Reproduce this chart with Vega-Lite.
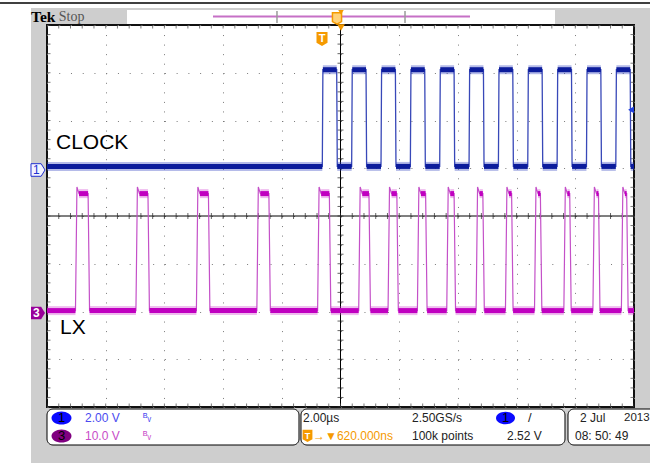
{
  "$schema": "https://vega.github.io/schema/vega-lite/v6.json",
  "width": 587,
  "height": 382,
  "autosize": {"type": "none"},
  "padding": {"left": 47, "top": 25, "right": 16, "bottom": 56},
  "background": "#cecece",
  "config": {
    "view": {"fill": "#ffffff", "stroke": "#111111", "strokeWidth": 2},
    "axis": {"labels": false, "ticks": false, "domain": false, "titleOpacity": 0, "grid": true, "gridColor": "#7a7a7a", "gridWidth": 1},
    "axisX": {"gridDash": [1, 8.55], "tickCount": 10},
    "axisY": {"gridDash": [1, 10.74], "tickCount": 8},
    "text": {"font": "Liberation Sans"}
  },
  "data": {"values": [{}]},
  "datasets": {
    "clk": [
      {"t": -10, "v": 0.15}, {"t": -0.62, "v": 0.15}, {"t": -0.6, "v": 4.2}, {"t": -0.13, "v": 4.2}, {"t": -0.11, "v": 0.15},
      {"t": 0.38, "v": 0.15}, {"t": 0.4, "v": 4.2}, {"t": 0.87, "v": 4.2}, {"t": 0.89, "v": 0.15},
      {"t": 1.38, "v": 0.15}, {"t": 1.4, "v": 4.2}, {"t": 1.87, "v": 4.2}, {"t": 1.89, "v": 0.15},
      {"t": 2.38, "v": 0.15}, {"t": 2.4, "v": 4.2}, {"t": 2.87, "v": 4.2}, {"t": 2.89, "v": 0.15},
      {"t": 3.38, "v": 0.15}, {"t": 3.4, "v": 4.2}, {"t": 3.87, "v": 4.2}, {"t": 3.89, "v": 0.15},
      {"t": 4.38, "v": 0.15}, {"t": 4.4, "v": 4.2}, {"t": 4.87, "v": 4.2}, {"t": 4.89, "v": 0.15},
      {"t": 5.38, "v": 0.15}, {"t": 5.4, "v": 4.2}, {"t": 5.87, "v": 4.2}, {"t": 5.89, "v": 0.15},
      {"t": 6.38, "v": 0.15}, {"t": 6.4, "v": 4.2}, {"t": 6.87, "v": 4.2}, {"t": 6.89, "v": 0.15},
      {"t": 7.38, "v": 0.15}, {"t": 7.4, "v": 4.2}, {"t": 7.87, "v": 4.2}, {"t": 7.89, "v": 0.15},
      {"t": 8.38, "v": 0.15}, {"t": 8.4, "v": 4.2}, {"t": 8.87, "v": 4.2}, {"t": 8.89, "v": 0.15},
      {"t": 9.38, "v": 0.15}, {"t": 9.4, "v": 4.2}, {"t": 9.87, "v": 4.2}, {"t": 9.89, "v": 0.15},
      {"t": 10, "v": 0.15}
    ],
    "clkband": [
      {"t1": -10, "t2": -0.62, "v": 0.15}, {"t1": -0.11, "t2": 0.38, "v": 0.15}, {"t1": 0.89, "t2": 1.38, "v": 0.15},
      {"t1": 1.89, "t2": 2.38, "v": 0.15}, {"t1": 2.89, "t2": 3.38, "v": 0.15}, {"t1": 3.89, "t2": 4.38, "v": 0.15},
      {"t1": 4.89, "t2": 5.38, "v": 0.15}, {"t1": 5.89, "t2": 6.38, "v": 0.15}, {"t1": 6.89, "t2": 7.38, "v": 0.15},
      {"t1": 7.89, "t2": 8.38, "v": 0.15}, {"t1": 8.89, "t2": 9.38, "v": 0.15}, {"t1": 9.89, "t2": 10, "v": 0.15},
      {"t1": -0.6, "t2": -0.13, "v": 4.2}, {"t1": 0.4, "t2": 0.87, "v": 4.2}, {"t1": 1.4, "t2": 1.87, "v": 4.2},
      {"t1": 2.4, "t2": 2.87, "v": 4.2}, {"t1": 3.4, "t2": 3.87, "v": 4.2}, {"t1": 4.4, "t2": 4.87, "v": 4.2},
      {"t1": 5.4, "t2": 5.87, "v": 4.2}, {"t1": 6.4, "t2": 6.87, "v": 4.2}, {"t1": 7.4, "t2": 7.87, "v": 4.2},
      {"t1": 8.4, "t2": 8.87, "v": 4.2}, {"t1": 9.4, "t2": 9.87, "v": 4.2}
    ],
    "lx": [
      {"t": -10, "v": 0.5},
      {"t": -9.03, "v": 0.5}, {"t": -8.98, "v": 26.4}, {"t": -8.91, "v": 25}, {"t": -8.6, "v": 25}, {"t": -8.55, "v": 0.5},
      {"t": -6.97, "v": 0.5}, {"t": -6.92, "v": 26.4}, {"t": -6.85, "v": 25}, {"t": -6.56, "v": 25}, {"t": -6.51, "v": 0.5},
      {"t": -4.91, "v": 0.5}, {"t": -4.86, "v": 26.4}, {"t": -4.79, "v": 25}, {"t": -4.5, "v": 25}, {"t": -4.45, "v": 0.5},
      {"t": -2.85, "v": 0.5}, {"t": -2.8, "v": 26.4}, {"t": -2.73, "v": 25}, {"t": -2.44, "v": 25}, {"t": -2.39, "v": 0.5},
      {"t": -0.78, "v": 0.5}, {"t": -0.73, "v": 26.4}, {"t": -0.66, "v": 25}, {"t": -0.38, "v": 25}, {"t": -0.33, "v": 0.5},
      {"t": 0.62, "v": 0.5}, {"t": 0.67, "v": 26.4}, {"t": 0.74, "v": 25}, {"t": 0.97, "v": 25}, {"t": 1.02, "v": 0.5},
      {"t": 1.62, "v": 0.5}, {"t": 1.67, "v": 26.4}, {"t": 1.74, "v": 25}, {"t": 1.92, "v": 25}, {"t": 1.97, "v": 0.5},
      {"t": 2.62, "v": 0.5}, {"t": 2.67, "v": 26.4}, {"t": 2.74, "v": 25}, {"t": 2.9, "v": 25}, {"t": 2.95, "v": 0.5},
      {"t": 3.62, "v": 0.5}, {"t": 3.67, "v": 26.4}, {"t": 3.74, "v": 25}, {"t": 3.87, "v": 25}, {"t": 3.92, "v": 0.5},
      {"t": 4.62, "v": 0.5}, {"t": 4.67, "v": 26.4}, {"t": 4.74, "v": 25}, {"t": 4.85, "v": 25}, {"t": 4.9, "v": 0.5},
      {"t": 5.62, "v": 0.5}, {"t": 5.67, "v": 26.4}, {"t": 5.74, "v": 25}, {"t": 5.83, "v": 25}, {"t": 5.88, "v": 0.5},
      {"t": 6.61, "v": 0.5}, {"t": 6.66, "v": 26.4}, {"t": 6.73, "v": 25}, {"t": 6.81, "v": 25}, {"t": 6.86, "v": 0.5},
      {"t": 7.61, "v": 0.5}, {"t": 7.66, "v": 26.4}, {"t": 7.73, "v": 25}, {"t": 7.81, "v": 25}, {"t": 7.86, "v": 0.5},
      {"t": 8.6, "v": 0.5}, {"t": 8.65, "v": 26.4}, {"t": 8.72, "v": 25}, {"t": 8.79, "v": 25}, {"t": 8.84, "v": 0.5},
      {"t": 9.57, "v": 0.5}, {"t": 9.62, "v": 26.4}, {"t": 9.69, "v": 25}, {"t": 9.75, "v": 25}, {"t": 9.8, "v": 0.5},
      {"t": 10, "v": 0.5}
    ],
    "lxband": [
      {"t1": -10, "t2": -9.03, "v": 0.5}, {"t1": -8.55, "t2": -6.97, "v": 0.5}, {"t1": -6.51, "t2": -4.91, "v": 0.5},
      {"t1": -4.45, "t2": -2.85, "v": 0.5}, {"t1": -2.39, "t2": -0.78, "v": 0.5}, {"t1": -0.33, "t2": 0.62, "v": 0.5},
      {"t1": 1.02, "t2": 1.62, "v": 0.5}, {"t1": 1.97, "t2": 2.62, "v": 0.5}, {"t1": 2.95, "t2": 3.62, "v": 0.5},
      {"t1": 3.92, "t2": 4.62, "v": 0.5}, {"t1": 4.9, "t2": 5.62, "v": 0.5}, {"t1": 5.88, "t2": 6.61, "v": 0.5},
      {"t1": 6.86, "t2": 7.61, "v": 0.5}, {"t1": 7.86, "t2": 8.6, "v": 0.5}, {"t1": 8.84, "t2": 9.57, "v": 0.5},
      {"t1": 9.8, "t2": 10, "v": 0.5},
      {"t1": -8.91, "t2": -8.6, "v": 25}, {"t1": -6.85, "t2": -6.56, "v": 25}, {"t1": -4.79, "t2": -4.5, "v": 25},
      {"t1": -2.73, "t2": -2.44, "v": 25}, {"t1": -0.66, "t2": -0.38, "v": 25}, {"t1": 0.74, "t2": 0.97, "v": 25},
      {"t1": 1.74, "t2": 1.92, "v": 25}, {"t1": 2.74, "t2": 2.9, "v": 25}, {"t1": 3.74, "t2": 3.87, "v": 25},
      {"t1": 4.74, "t2": 4.85, "v": 25}, {"t1": 5.74, "t2": 5.83, "v": 25}, {"t1": 6.73, "t2": 6.81, "v": 25},
      {"t1": 7.73, "t2": 7.81, "v": 25}, {"t1": 8.72, "t2": 8.79, "v": 25}, {"t1": 9.69, "t2": 9.75, "v": 25}
    ],
    "xt": [
      {"t": -10}, {"t": -9.6}, {"t": -9.2}, {"t": -8.8}, {"t": -8.4}, {"t": -8}, {"t": -7.6}, {"t": -7.2}, {"t": -6.8}, {"t": -6.4},
      {"t": -6}, {"t": -5.6}, {"t": -5.2}, {"t": -4.8}, {"t": -4.4}, {"t": -4}, {"t": -3.6}, {"t": -3.2}, {"t": -2.8}, {"t": -2.4},
      {"t": -2}, {"t": -1.6}, {"t": -1.2}, {"t": -0.8}, {"t": -0.4}, {"t": 0}, {"t": 0.4}, {"t": 0.8}, {"t": 1.2}, {"t": 1.6},
      {"t": 2}, {"t": 2.4}, {"t": 2.8}, {"t": 3.2}, {"t": 3.6}, {"t": 4}, {"t": 4.4}, {"t": 4.8}, {"t": 5.2}, {"t": 5.6},
      {"t": 6}, {"t": 6.4}, {"t": 6.8}, {"t": 7.2}, {"t": 7.6}, {"t": 8}, {"t": 8.4}, {"t": 8.8}, {"t": 9.2}, {"t": 9.6}, {"t": 10}
    ],
    "yt": [
      {"d": -4}, {"d": -3.8}, {"d": -3.6}, {"d": -3.4}, {"d": -3.2}, {"d": -3}, {"d": -2.8}, {"d": -2.6}, {"d": -2.4}, {"d": -2.2},
      {"d": -2}, {"d": -1.8}, {"d": -1.6}, {"d": -1.4}, {"d": -1.2}, {"d": -1}, {"d": -0.8}, {"d": -0.6}, {"d": -0.4}, {"d": -0.2},
      {"d": 0}, {"d": 0.2}, {"d": 0.4}, {"d": 0.6}, {"d": 0.8}, {"d": 1}, {"d": 1.2}, {"d": 1.4}, {"d": 1.6}, {"d": 1.8},
      {"d": 2}, {"d": 2.2}, {"d": 2.4}, {"d": 2.6}, {"d": 2.8}, {"d": 3}, {"d": 3.2}, {"d": 3.4}, {"d": 3.6}, {"d": 3.8}, {"d": 4}
    ]
  },
  "layer": [
    {
      "layer": [
        {"mark": {"type": "rect", "color": "#ffffff"}, "encoding": {"x": {"datum": -11.601, "type": "quantitative", "scale": {"domain": [-10, 10], "nice": false}}, "x2": {"datum": -10.545}, "y": {"datum": 4.524, "type": "quantitative", "scale": {"domain": [-4, 4], "nice": false}}, "y2": {"datum": -5.173}}},
        {"mark": {"type": "rect", "color": "#ffffff"}, "encoding": {"x": {"datum": -11.601, "type": "quantitative", "scale": {"domain": [-10, 10], "nice": false}}, "x2": {"datum": 10.545}, "y": {"datum": 4.524, "type": "quantitative", "scale": {"domain": [-4, 4], "nice": false}}, "y2": {"datum": 4.356}}},
        {"mark": {"type": "rule", "color": "#000000", "strokeWidth": 1.5}, "encoding": {"x": {"datum": -11.601, "type": "quantitative", "scale": {"domain": [-10, 10], "nice": false}}, "x2": {"datum": 10.545}, "y": {"datum": 4.461, "type": "quantitative", "scale": {"domain": [-4, 4], "nice": false}}}},
        {"mark": {"type": "rect", "color": "#ffffff"}, "encoding": {"x": {"datum": -7.274, "type": "quantitative", "scale": {"domain": [-10, 10], "nice": false}}, "x2": {"datum": 7.308}, "y": {"datum": 4.314, "type": "quantitative", "scale": {"domain": [-4, 4], "nice": false}}, "y2": {"datum": 4.021}}},
        {"mark": {"type": "rule", "color": "#c670c6", "strokeWidth": 2}, "encoding": {"x": {"datum": -4.344, "type": "quantitative", "scale": {"domain": [-10, 10], "nice": false}}, "x2": {"datum": 4.412}, "y": {"datum": 4.178, "type": "quantitative", "scale": {"domain": [-4, 4], "nice": false}}}},
        {"mark": {"type": "rule", "color": "#9a9a9a", "strokeWidth": 1.5}, "encoding": {"x": {"datum": -2.164, "type": "quantitative", "scale": {"domain": [-10, 10], "nice": false}}, "y": {"datum": 4.293, "type": "quantitative", "scale": {"domain": [-4, 4], "nice": false}}, "y2": {"datum": 4.042}}},
        {"mark": {"type": "rule", "color": "#9a9a9a", "strokeWidth": 1.5}, "encoding": {"x": {"datum": 2.198, "type": "quantitative", "scale": {"domain": [-10, 10], "nice": false}}, "y": {"datum": 4.293, "type": "quantitative", "scale": {"domain": [-4, 4], "nice": false}}, "y2": {"datum": 4.042}}},
        {"mark": {"type": "rule", "color": "#000000", "strokeWidth": 1}, "encoding": {"x": {"datum": 0, "type": "quantitative", "scale": {"domain": [-10, 10], "nice": false}}}},
        {"mark": {"type": "rule", "color": "#000000", "strokeWidth": 1}, "encoding": {"y": {"datum": 0, "type": "quantitative", "scale": {"domain": [-4, 4], "nice": false}}}},
        {"data": {"name": "xt"}, "mark": {"type": "tick", "orient": "vertical", "size": 6, "thickness": 1, "color": "#222222"}, "encoding": {"x": {"field": "t", "type": "quantitative", "scale": {"domain": [-10, 10], "nice": false}, "title": null}, "y": {"datum": 0, "type": "quantitative", "scale": {"domain": [-4, 4], "nice": false}}}},
        {"data": {"name": "yt"}, "mark": {"type": "tick", "orient": "horizontal", "size": 6, "thickness": 1, "color": "#222222"}, "encoding": {"y": {"field": "d", "type": "quantitative", "scale": {"domain": [-4, 4], "nice": false}, "title": null}, "x": {"datum": 0, "type": "quantitative", "scale": {"domain": [-10, 10], "nice": false}}}},
        {"data": {"name": "xt"}, "mark": {"type": "tick", "orient": "vertical", "size": 7, "thickness": 1, "color": "#444444", "clip": true}, "encoding": {"x": {"field": "t", "type": "quantitative", "scale": {"domain": [-10, 10], "nice": false}, "title": null}, "y": {"datum": 4, "type": "quantitative", "scale": {"domain": [-4, 4], "nice": false}}}},
        {"data": {"name": "xt"}, "mark": {"type": "tick", "orient": "vertical", "size": 7, "thickness": 1, "color": "#444444", "clip": true}, "encoding": {"x": {"field": "t", "type": "quantitative", "scale": {"domain": [-10, 10], "nice": false}, "title": null}, "y": {"datum": -4, "type": "quantitative", "scale": {"domain": [-4, 4], "nice": false}}}},
        {"data": {"name": "yt"}, "mark": {"type": "tick", "orient": "horizontal", "size": 7, "thickness": 1, "color": "#444444", "clip": true}, "encoding": {"y": {"field": "d", "type": "quantitative", "scale": {"domain": [-4, 4], "nice": false}, "title": null}, "x": {"datum": -10, "type": "quantitative", "scale": {"domain": [-10, 10], "nice": false}}}},
        {"data": {"name": "yt"}, "mark": {"type": "tick", "orient": "horizontal", "size": 7, "thickness": 1, "color": "#444444", "clip": true}, "encoding": {"y": {"field": "d", "type": "quantitative", "scale": {"domain": [-4, 4], "nice": false}, "title": null}, "x": {"datum": 10, "type": "quantitative", "scale": {"domain": [-10, 10], "nice": false}}}},
        {"mark": {"type": "rect", "fill": "#ffffff", "stroke": "#000000", "strokeWidth": 1, "cornerRadius": 6}, "encoding": {"x": {"datum": -10.0, "type": "quantitative", "scale": {"domain": [-10, 10], "nice": false}}, "x2": {"datum": -1.414}, "y": {"datum": -4.042, "type": "quantitative", "scale": {"domain": [-4, 4], "nice": false}}, "y2": {"datum": -4.796}}},
        {"mark": {"type": "rect", "fill": "#ffffff", "stroke": "#000000", "strokeWidth": 1, "cornerRadius": 6}, "encoding": {"x": {"datum": -1.346, "type": "quantitative", "scale": {"domain": [-10, 10], "nice": false}}, "x2": {"datum": 7.649}, "y": {"datum": -4.042, "type": "quantitative", "scale": {"domain": [-4, 4], "nice": false}}, "y2": {"datum": -4.796}}},
        {"mark": {"type": "rect", "fill": "#ffffff", "stroke": "#000000", "strokeWidth": 1, "cornerRadius": 6}, "encoding": {"x": {"datum": 7.751, "type": "quantitative", "scale": {"domain": [-10, 10], "nice": false}}, "x2": {"datum": 11.056}, "y": {"datum": -4.042, "type": "quantitative", "scale": {"domain": [-4, 4], "nice": false}}, "y2": {"datum": -4.796}}},
        {"mark": {"type": "text", "text": "Tek", "align": "left", "baseline": "middle", "font": "Liberation Serif", "fontWeight": "bold", "fontSize": 15.5, "color": "#000000"}, "encoding": {"x": {"datum": -10.545, "type": "quantitative", "scale": {"domain": [-10, 10], "nice": false}}, "y": {"datum": 4.168, "type": "quantitative", "scale": {"domain": [-4, 4], "nice": false}}}},
        {"mark": {"type": "text", "text": "Stop", "align": "left", "baseline": "middle", "font": "Liberation Serif", "fontSize": 14, "color": "#555555"}, "encoding": {"x": {"datum": -9.6, "type": "quantitative", "scale": {"domain": [-10, 10], "nice": false}}, "y": {"datum": 4.168, "type": "quantitative", "scale": {"domain": [-4, 4], "nice": false}}}},
        {"mark": {"type": "point", "shape": "M-0.8,-1 L0.8,-1 L0.8,0.55 L0,1 L-0.8,0.55 Z", "size": 130, "filled": false, "stroke": "#f59a00", "strokeWidth": 1.5, "fill": "#ffd27a", "opacity": 1}, "encoding": {"x": {"datum": -0.119, "type": "quantitative", "scale": {"domain": [-10, 10], "nice": false}}, "y": {"datum": 4.136, "type": "quantitative", "scale": {"domain": [-4, 4], "nice": false}}}},
        {"mark": {"type": "point", "shape": "triangle-down", "size": 30, "filled": true, "color": "#f59a00", "opacity": 1}, "encoding": {"x": {"datum": 0.017, "type": "quantitative", "scale": {"domain": [-10, 10], "nice": false}}, "y": {"datum": 4.262, "type": "quantitative", "scale": {"domain": [-4, 4], "nice": false}}}},
        {"mark": {"type": "point", "shape": "triangle-down", "size": 60, "filled": true, "color": "#f59a00", "opacity": 1}, "encoding": {"x": {"datum": 0.017, "type": "quantitative", "scale": {"domain": [-10, 10], "nice": false}}, "y": {"datum": 3.948, "type": "quantitative", "scale": {"domain": [-4, 4], "nice": false}}}},
        {"mark": {"type": "point", "shape": "M-0.8,-1 L0.8,-1 L0.8,0.55 L0,1 L-0.8,0.55 Z", "size": 190, "filled": true, "color": "#f59a00", "opacity": 1}, "encoding": {"x": {"datum": -0.63, "type": "quantitative", "scale": {"domain": [-10, 10], "nice": false}}, "y": {"datum": 3.707, "type": "quantitative", "scale": {"domain": [-4, 4], "nice": false}}}},
        {"mark": {"type": "text", "text": "T", "align": "center", "baseline": "middle", "fontWeight": "bold", "fontSize": 11, "color": "#ffffff"}, "encoding": {"x": {"datum": -0.63, "type": "quantitative", "scale": {"domain": [-10, 10], "nice": false}}, "y": {"datum": 3.717, "type": "quantitative", "scale": {"domain": [-4, 4], "nice": false}}}},
        {"mark": {"type": "text", "text": "CLOCK", "align": "left", "baseline": "middle", "fontSize": 21, "color": "#000000"}, "encoding": {"x": {"datum": -9.693, "type": "quantitative", "scale": {"domain": [-10, 10], "nice": false}}, "y": {"datum": 1.539, "type": "quantitative", "scale": {"domain": [-4, 4], "nice": false}}}},
        {"mark": {"type": "text", "text": "LX", "align": "left", "baseline": "middle", "fontSize": 21, "color": "#000000"}, "encoding": {"x": {"datum": -9.557, "type": "quantitative", "scale": {"domain": [-10, 10], "nice": false}}, "y": {"datum": -2.346, "type": "quantitative", "scale": {"domain": [-4, 4], "nice": false}}}},
        {"mark": {"type": "point", "shape": "M-1,0 A1,0.66 0 1,0 1,0 A1,0.66 0 1,0 -1,0 Z", "size": 400, "filled": true, "color": "#0a0aff", "opacity": 1}, "encoding": {"x": {"datum": -9.506, "type": "quantitative", "scale": {"domain": [-10, 10], "nice": false}}, "y": {"datum": -4.23, "type": "quantitative", "scale": {"domain": [-4, 4], "nice": false}}}},
        {"mark": {"type": "text", "text": "1", "align": "center", "baseline": "middle", "fontSize": 13, "color": "#000000"}, "encoding": {"x": {"datum": -9.506, "type": "quantitative", "scale": {"domain": [-10, 10], "nice": false}}, "y": {"datum": -4.23, "type": "quantitative", "scale": {"domain": [-4, 4], "nice": false}}}},
        {"mark": {"type": "point", "shape": "M-1,0 A1,0.66 0 1,0 1,0 A1,0.66 0 1,0 -1,0 Z", "size": 400, "filled": true, "color": "#800080", "opacity": 1}, "encoding": {"x": {"datum": -9.506, "type": "quantitative", "scale": {"domain": [-10, 10], "nice": false}}, "y": {"datum": -4.607, "type": "quantitative", "scale": {"domain": [-4, 4], "nice": false}}}},
        {"mark": {"type": "text", "text": "3", "align": "center", "baseline": "middle", "fontSize": 13, "color": "#000000"}, "encoding": {"x": {"datum": -9.506, "type": "quantitative", "scale": {"domain": [-10, 10], "nice": false}}, "y": {"datum": -4.607, "type": "quantitative", "scale": {"domain": [-4, 4], "nice": false}}}},
        {"mark": {"type": "text", "text": "2.00 V", "align": "left", "baseline": "middle", "fontSize": 12, "color": "#4a4af0"}, "encoding": {"x": {"datum": -8.705, "type": "quantitative", "scale": {"domain": [-10, 10], "nice": false}}, "y": {"datum": -4.23, "type": "quantitative", "scale": {"domain": [-4, 4], "nice": false}}}},
        {"mark": {"type": "text", "text": "10.0 V", "align": "left", "baseline": "middle", "fontSize": 12, "color": "#c84bc8"}, "encoding": {"x": {"datum": -8.705, "type": "quantitative", "scale": {"domain": [-10, 10], "nice": false}}, "y": {"datum": -4.607, "type": "quantitative", "scale": {"domain": [-4, 4], "nice": false}}}},
        {"mark": {"type": "text", "text": "ᴮᵥ", "align": "left", "baseline": "middle", "fontSize": 11, "color": "#4a4af0"}, "encoding": {"x": {"datum": -6.729, "type": "quantitative", "scale": {"domain": [-10, 10], "nice": false}}, "y": {"datum": -4.23, "type": "quantitative", "scale": {"domain": [-4, 4], "nice": false}}}},
        {"mark": {"type": "text", "text": "ᴮᵥ", "align": "left", "baseline": "middle", "fontSize": 11, "color": "#c84bc8"}, "encoding": {"x": {"datum": -6.729, "type": "quantitative", "scale": {"domain": [-10, 10], "nice": false}}, "y": {"datum": -4.607, "type": "quantitative", "scale": {"domain": [-4, 4], "nice": false}}}},
        {"mark": {"type": "text", "text": "2.00µs", "align": "left", "baseline": "middle", "fontSize": 12, "color": "#222222"}, "encoding": {"x": {"datum": -1.278, "type": "quantitative", "scale": {"domain": [-10, 10], "nice": false}}, "y": {"datum": -4.23, "type": "quantitative", "scale": {"domain": [-4, 4], "nice": false}}}},
        {"mark": {"type": "point", "shape": "M-0.8,-1 L0.8,-1 L0.8,0.55 L0,1 L-0.8,0.55 Z", "size": 150, "filled": true, "color": "#f59a00", "opacity": 1}, "encoding": {"x": {"datum": -1.124, "type": "quantitative", "scale": {"domain": [-10, 10], "nice": false}}, "y": {"datum": -4.607, "type": "quantitative", "scale": {"domain": [-4, 4], "nice": false}}}},
        {"mark": {"type": "text", "text": "T", "align": "center", "baseline": "middle", "fontWeight": "bold", "fontSize": 9, "color": "#ffffff"}, "encoding": {"x": {"datum": -1.124, "type": "quantitative", "scale": {"domain": [-10, 10], "nice": false}}, "y": {"datum": -4.6, "type": "quantitative", "scale": {"domain": [-4, 4], "nice": false}}}},
        {"mark": {"type": "text", "text": "→▼620.000ns", "align": "left", "baseline": "middle", "fontSize": 12, "color": "#f59a00"}, "encoding": {"x": {"datum": -0.937, "type": "quantitative", "scale": {"domain": [-10, 10], "nice": false}}, "y": {"datum": -4.607, "type": "quantitative", "scale": {"domain": [-4, 4], "nice": false}}}},
        {"mark": {"type": "text", "text": "2.50GS/s", "align": "left", "baseline": "middle", "fontSize": 12, "color": "#222222"}, "encoding": {"x": {"datum": 2.436, "type": "quantitative", "scale": {"domain": [-10, 10], "nice": false}}, "y": {"datum": -4.23, "type": "quantitative", "scale": {"domain": [-4, 4], "nice": false}}}},
        {"mark": {"type": "text", "text": "100k points", "align": "left", "baseline": "middle", "fontSize": 12, "color": "#222222"}, "encoding": {"x": {"datum": 2.436, "type": "quantitative", "scale": {"domain": [-10, 10], "nice": false}}, "y": {"datum": -4.607, "type": "quantitative", "scale": {"domain": [-4, 4], "nice": false}}}},
        {"mark": {"type": "point", "shape": "M-1,0 A1,0.66 0 1,0 1,0 A1,0.66 0 1,0 -1,0 Z", "size": 361, "filled": true, "color": "#0a0aff", "opacity": 1}, "encoding": {"x": {"datum": 5.622, "type": "quantitative", "scale": {"domain": [-10, 10], "nice": false}}, "y": {"datum": -4.23, "type": "quantitative", "scale": {"domain": [-4, 4], "nice": false}}}},
        {"mark": {"type": "text", "text": "1", "align": "center", "baseline": "middle", "fontSize": 13, "color": "#000000"}, "encoding": {"x": {"datum": 5.622, "type": "quantitative", "scale": {"domain": [-10, 10], "nice": false}}, "y": {"datum": -4.23, "type": "quantitative", "scale": {"domain": [-4, 4], "nice": false}}}},
        {"mark": {"type": "text", "text": "/", "align": "left", "baseline": "middle", "fontSize": 13, "color": "#222222"}, "encoding": {"x": {"datum": 6.388, "type": "quantitative", "scale": {"domain": [-10, 10], "nice": false}}, "y": {"datum": -4.23, "type": "quantitative", "scale": {"domain": [-4, 4], "nice": false}}}},
        {"mark": {"type": "text", "text": "2.52 V", "align": "left", "baseline": "middle", "fontSize": 12, "color": "#222222"}, "encoding": {"x": {"datum": 5.673, "type": "quantitative", "scale": {"domain": [-10, 10], "nice": false}}, "y": {"datum": -4.607, "type": "quantitative", "scale": {"domain": [-4, 4], "nice": false}}}},
        {"mark": {"type": "text", "text": "2 Jul", "align": "left", "baseline": "middle", "fontSize": 12, "color": "#222222"}, "encoding": {"x": {"datum": 8.16, "type": "quantitative", "scale": {"domain": [-10, 10], "nice": false}}, "y": {"datum": -4.23, "type": "quantitative", "scale": {"domain": [-4, 4], "nice": false}}}},
        {"mark": {"type": "text", "text": "2013", "align": "left", "baseline": "middle", "fontSize": 11.5, "color": "#222222"}, "encoding": {"x": {"datum": 9.66, "type": "quantitative", "scale": {"domain": [-10, 10], "nice": false}}, "y": {"datum": -4.23, "type": "quantitative", "scale": {"domain": [-4, 4], "nice": false}}}},
        {"mark": {"type": "text", "text": "08: 50: 49", "align": "left", "baseline": "middle", "fontSize": 12, "color": "#222222"}, "encoding": {"x": {"datum": 7.99, "type": "quantitative", "scale": {"domain": [-10, 10], "nice": false}}, "y": {"datum": -4.607, "type": "quantitative", "scale": {"domain": [-4, 4], "nice": false}}}}
      ]
    },
    {
      "layer": [
        {"data": {"name": "clk"}, "mark": {"type": "line", "color": "#3848b8", "strokeWidth": 1.3}, "encoding": {"x": {"field": "t", "type": "quantitative", "scale": {"domain": [-10, 10], "nice": false}, "title": null}, "y": {"field": "v", "type": "quantitative", "scale": {"domain": [-9.927, 6.073], "nice": false}, "axis": null}}},
        {"data": {"name": "clkband"}, "mark": {"type": "rule", "color": "#2a3cc0", "strokeWidth": 9, "opacity": 0.35}, "encoding": {"x": {"field": "t1", "type": "quantitative", "scale": {"domain": [-10, 10], "nice": false}, "title": null}, "x2": {"field": "t2"}, "y": {"field": "v", "type": "quantitative", "scale": {"domain": [-9.927, 6.073], "nice": false}, "axis": null}}},
        {"data": {"name": "clkband"}, "mark": {"type": "rule", "color": "#0c1c9c", "strokeWidth": 5}, "encoding": {"x": {"field": "t1", "type": "quantitative", "scale": {"domain": [-10, 10], "nice": false}, "title": null}, "x2": {"field": "t2"}, "y": {"field": "v", "type": "quantitative", "scale": {"domain": [-9.927, 6.073], "nice": false}, "axis": null}}},
        {"mark": {"type": "point", "shape": "M-1,-0.9 L0.45,-0.9 L1,0 L0.45,0.9 L-1,0.9 Z", "size": 196, "filled": true, "fill": "#f4f4ff", "stroke": "#2030d0", "strokeWidth": 1, "opacity": 1}, "encoding": {"x": {"datum": -10.307, "type": "quantitative", "scale": {"domain": [-10, 10], "nice": false}}, "y": {"datum": 0, "type": "quantitative", "scale": {"domain": [-9.927, 6.073], "nice": false}, "axis": null}}},
        {"mark": {"type": "text", "text": "1", "align": "center", "baseline": "middle", "fontSize": 12, "color": "#2030d0"}, "encoding": {"x": {"datum": -10.36, "type": "quantitative", "scale": {"domain": [-10, 10], "nice": false}}, "y": {"datum": 0, "type": "quantitative", "scale": {"domain": [-9.927, 6.073], "nice": false}, "axis": null}}},
        {"mark": {"type": "point", "shape": "triangle-left", "size": 45, "filled": true, "color": "#2040e0", "opacity": 1}, "encoding": {"x": {"datum": 9.898, "type": "quantitative", "scale": {"domain": [-10, 10], "nice": false}}, "y": {"datum": 2.52, "type": "quantitative", "scale": {"domain": [-9.927, 6.073], "nice": false}, "axis": null}}}
      ]
    },
    {
      "layer": [
        {"data": {"name": "lx"}, "mark": {"type": "line", "color": "#c450c8", "strokeWidth": 1.2}, "encoding": {"x": {"field": "t", "type": "quantitative", "scale": {"domain": [-10, 10], "nice": false}, "title": null}, "y": {"field": "v", "type": "quantitative", "scale": {"domain": [-19.69, 60.31], "nice": false}, "axis": null}}},
        {"data": {"name": "lxband"}, "mark": {"type": "rule", "color": "#d040d0", "strokeWidth": 9, "opacity": 0.35}, "encoding": {"x": {"field": "t1", "type": "quantitative", "scale": {"domain": [-10, 10], "nice": false}, "title": null}, "x2": {"field": "t2"}, "y": {"field": "v", "type": "quantitative", "scale": {"domain": [-19.69, 60.31], "nice": false}, "axis": null}}},
        {"data": {"name": "lxband"}, "mark": {"type": "rule", "color": "#c000c0", "strokeWidth": 5}, "encoding": {"x": {"field": "t1", "type": "quantitative", "scale": {"domain": [-10, 10], "nice": false}, "title": null}, "x2": {"field": "t2"}, "y": {"field": "v", "type": "quantitative", "scale": {"domain": [-19.69, 60.31], "nice": false}, "axis": null}}},
        {"mark": {"type": "point", "shape": "M-1,-0.9 L0.45,-0.9 L1,0 L0.45,0.9 L-1,0.9 Z", "size": 196, "filled": true, "color": "#990099", "opacity": 1}, "encoding": {"x": {"datum": -10.307, "type": "quantitative", "scale": {"domain": [-10, 10], "nice": false}}, "y": {"datum": 0, "type": "quantitative", "scale": {"domain": [-19.69, 60.31], "nice": false}, "axis": null}}},
        {"mark": {"type": "text", "text": "3", "align": "center", "baseline": "middle", "fontSize": 12, "fontWeight": "bold", "color": "#ffffff"}, "encoding": {"x": {"datum": -10.36, "type": "quantitative", "scale": {"domain": [-10, 10], "nice": false}}, "y": {"datum": 0, "type": "quantitative", "scale": {"domain": [-19.69, 60.31], "nice": false}, "axis": null}}}
      ]
    }
  ],
  "resolve": {"scale": {"y": "independent"}}
}
